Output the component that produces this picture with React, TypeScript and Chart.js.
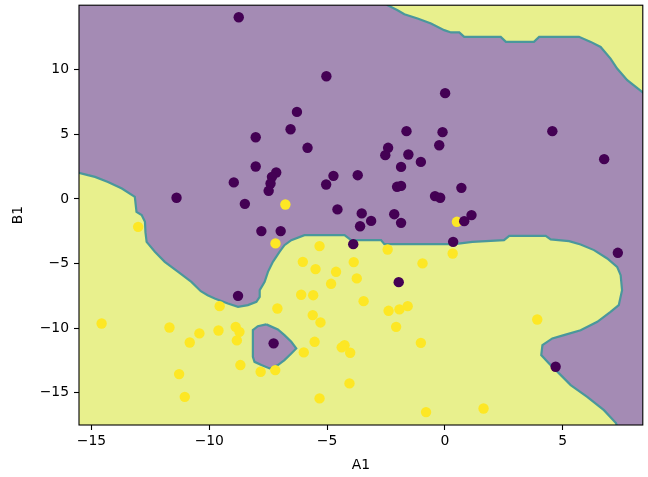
import React, { useEffect, useRef } from 'react';
import { Chart, registerables } from 'chart.js';

Chart.register(...registerables);

// axis limits and tick labels
const xLimits = [-15.53, 8.4];
const yLimits = [-17.5, 15.0];
const xTicks = [-15, -10, -5, 0, 5];
const yTicks = [-15, -10, -5, 0, 5, 10];
const xLabel = 'A1';
const yLabel = 'B1';

// class 0 (dark purple) samples [A1, B1]
const class0: [number, number][] = [
  [-8.75, 14.07], [-8.03, 4.78], [-5.03, 9.5], [0.01, 8.19], [-6.28, 6.74], [-6.55, 5.4],
  [-1.63, 5.25], [-0.1, 5.17], [-5.83, 3.96], [-2.41, 3.96], [-0.24, 4.16], [4.56, 5.25],
  [-2.53, 3.39], [-1.55, 3.44], [-1.02, 2.87], [-1.86, 2.48], [-7.16, 2.05], [-7.34, 1.71],
  [-7.4, 1.2], [-7.48, 0.63], [-4.73, 1.79], [-5.04, 1.12], [-3.7, 1.84], [-2.03, 0.94],
  [-1.86, 1.01], [-0.42, 0.22], [-0.2, 0.09], [0.7, 0.86], [-4.56, -0.81], [-3.53, -1.12],
  [-3.13, -1.7], [-3.6, -2.11], [-2.15, -1.18], [-1.86, -1.85], [-6.97, -2.49], [-7.79, -2.49],
  [-3.89, -3.5], [0.35, -3.32], [-1.96, -6.44], [6.76, 3.08], [1.13, -1.25], [0.82, -1.72],
  [7.34, -4.17], [-8.03, 2.51], [-8.96, 1.28], [-11.39, 0.09], [-8.49, -0.38], [-8.78, -7.5],
  [-7.27, -11.18], [4.7, -12.99],
];

// class 1 (yellow) samples [A1, B1]
const class1: [number, number][] = [
  [0.51, -1.77], [-13.02, -2.16], [-6.77, -0.43], [-7.19, -3.44], [-5.32, -3.65], [-2.43, -3.91],
  [0.33, -4.22], [-6.03, -4.87], [-3.87, -4.89], [-0.95, -4.99], [-5.49, -5.43], [-4.62, -5.64],
  [-3.74, -6.15], [-4.83, -6.57], [-6.1, -7.42], [-5.59, -7.45], [-3.45, -7.91], [-7.11, -8.48],
  [-2.39, -8.66], [-1.93, -8.55], [-1.58, -8.3], [-5.61, -8.99], [-5.28, -9.56], [-2.07, -9.9],
  [-5.53, -11.06], [-1.02, -11.14], [-4.26, -11.32], [-4.38, -11.49], [-4.02, -11.91], [-5.99, -11.88],
  [-7.2, -13.25], [-7.82, -13.38], [-4.05, -14.28], [-5.32, -15.44], [-0.8, -16.5], [-9.56, -8.3],
  [-14.57, -9.64], [-11.69, -9.95], [-10.42, -10.41], [-10.83, -11.11], [-9.61, -10.18], [-8.88, -9.9],
  [-8.72, -10.29], [-8.83, -10.95], [-8.68, -12.86], [-11.28, -13.56], [-11.04, -15.32], [3.92, -9.33],
  [1.64, -16.22],
];

// decision boundary of the large class-1 region (left edge -> bottom edge)
const boundaryA: [number, number][] = [
  [-15.7, 2.11], [-15.15, 1.84], [-14.85, 1.71], [-14.3, 1.32], [-13.71, 0.81], [-13.16, 0.16],
  [-13.09, -1.0], [-12.87, -1.25], [-12.73, -1.77], [-12.71, -2.57], [-12.66, -3.32], [-12.31, -4.09],
  [-11.89, -4.87], [-11.32, -5.64], [-10.76, -6.42], [-10.36, -7.14], [-10.07, -7.45], [-9.77, -7.7],
  [-9.21, -8.09], [-8.78, -8.35], [-8.36, -8.22], [-8.0, -7.96], [-7.86, -7.58], [-7.86, -7.06],
  [-7.65, -6.42], [-7.51, -5.64], [-7.3, -4.87], [-7.02, -4.09], [-6.81, -3.58], [-6.52, -3.19],
  [-5.96, -2.8], [-4.26, -2.8], [-3.98, -3.19], [-2.71, -3.19], [-2.57, -3.5], [0.4, -3.5],
  [1.17, -3.32], [2.51, -3.19], [2.73, -2.86], [4.28, -2.86], [4.49, -3.13], [5.27, -3.27],
  [5.76, -3.52], [6.33, -3.96], [6.89, -4.61], [7.31, -5.26], [7.46, -5.9], [7.52, -7.06],
  [7.38, -8.22], [7.03, -8.74], [6.47, -9.51], [5.76, -10.16], [5.05, -10.54], [4.56, -10.8],
  [4.14, -11.32], [4.09, -12.09], [4.42, -12.73], [4.92, -13.64], [5.34, -14.41], [6.04, -15.32],
  [6.75, -16.35], [7.26, -17.35], [7.34, -17.74],
];

// decision boundary of the top-right class-1 region (top edge -> right edge)
const boundaryB: [number, number][] = [
  [-2.53, 15.31], [-2.43, 15.0], [-2.01, 14.61], [-1.72, 14.3], [-1.16, 13.97], [-0.59, 13.58],
  [-0.03, 13.07], [0.26, 12.89], [0.61, 12.89], [0.82, 12.55], [2.37, 12.55], [2.59, 12.16],
  [3.78, 12.16], [4.0, 12.55], [5.69, 12.55], [6.19, 12.16], [6.61, 11.77], [7.03, 10.87],
  [7.31, 10.1], [7.74, 9.2], [8.37, 8.29], [8.57, 8.03],
];

// class-0 island inside the class-1 region
const islandC: [number, number][] = [
  [-7.58, -9.71], [-7.09, -10.1], [-6.81, -10.54], [-6.52, -11.06], [-6.31, -11.57], [-6.52, -11.96],
  [-6.81, -12.48], [-7.09, -12.86], [-7.44, -13.12], [-7.79, -12.86], [-8.08, -12.61], [-8.15, -12.22],
  [-8.15, -10.15], [-7.94, -9.85], [-7.58, -9.71],
];

const PURPLE_FILL = '#a48bb4';
const YELLOW_FILL = '#e8f08d';
const EDGE = '#4a979c';
const DARK = '#440154';
const YELLOW = '#fde725';
const FONT = { family: 'DejaVu Sans', size: 13.9 };

const pts = (a: [number, number][]) => a.map(([x, y]) => ({ x, y }));
const fmt = (v: number | string) => String(v).replace('-', '\u2212');

export default function App() {
  const ref = useRef<HTMLCanvasElement>(null);
  useEffect(() => {
    document.body.style.margin = '0';
    const canvas = ref.current;
    if (!canvas) return;

    const lo = -40;
    const regionA = [...boundaryA, [boundaryA[boundaryA.length - 1][0], lo], [lo, lo], [lo, boundaryA[0][1]]] as [number, number][];
    const regionB = [...boundaryB, [boundaryB[boundaryB.length - 1][0], -lo], [-lo, -lo], [boundaryB[0][0], -lo]] as [number, number][];

    const bgPlugin = {
      id: 'plotBg',
      beforeDatasetsDraw(chart: any) {
        const { ctx, chartArea: a } = chart;
        ctx.save();
        ctx.fillStyle = PURPLE_FILL;
        ctx.fillRect(a.left, a.top, a.right - a.left, a.bottom - a.top);
        ctx.restore();
      },
    };
    const framePlugin = {
      id: 'frame',
      afterDatasetsDraw(chart: any) {
        const { ctx, chartArea: a } = chart;
        ctx.save();
        ctx.strokeStyle = '#000';
        ctx.lineWidth = 1.1;
        ctx.strokeRect(a.left, a.top, a.right - a.left, a.bottom - a.top);
        ctx.restore();
      },
    };

    const region = (data: [number, number][], fillColor: string, order: number) => ({
      data: pts(data),
      showLine: true,
      fill: 'shape',
      backgroundColor: fillColor,
      borderColor: EDGE,
      borderWidth: 2.2,
      pointRadius: 0,
      tension: 0,
      clip: 0,
      order,
    });

    const noPad = (s: any) => {
      s.paddingTop = 0;
      s.paddingBottom = 0;
      s.paddingLeft = 0;
      s.paddingRight = 0;
    };

    const chart = new Chart(canvas, {
      type: 'scatter',
      data: {
        datasets: [
          region(regionA, YELLOW_FILL, 6),
          region(regionB, YELLOW_FILL, 6),
          region(islandC, PURPLE_FILL, 5),
          {
            data: pts(class1),
            backgroundColor: YELLOW,
            borderWidth: 0,
            pointRadius: 5.2,
            order: 2,
          },
          {
            data: pts(class0),
            backgroundColor: DARK,
            borderWidth: 0,
            pointRadius: 5.2,
            order: 1,
          },
        ] as any,
      },
      plugins: [bgPlugin, framePlugin],
      options: {
        animation: false,
        responsive: false,
        devicePixelRatio: 1,
        events: [],
        layout: { padding: { left: 0, right: 4, top: 5, bottom: 0 } },
        plugins: { legend: { display: false }, tooltip: { enabled: false } },
        scales: {
          x: {
            type: 'linear',
            min: xLimits[0],
            max: xLimits[1],
            afterBuildTicks: (s: any) => { s.ticks = xTicks.map((v) => ({ value: v })); },
            afterFit: (s: any) => { s.height = 52; noPad(s); },
            ticks: { font: FONT, color: '#000', padding: 3, maxRotation: 0, autoSkip: false, callback: (v: any) => fmt(v) },
            grid: { display: true, drawOnChartArea: false, drawTicks: true, tickLength: 5, tickWidth: 1.1, tickColor: '#000' },
            border: { display: false },
            title: { display: true, text: xLabel, font: FONT, color: '#000', padding: { top: 0, bottom: 3.6 } },
          },
          y: {
            type: 'linear',
            min: yLimits[0],
            max: yLimits[1],
            afterBuildTicks: (s: any) => { s.ticks = yTicks.map((v) => ({ value: v })); },
            afterFit: (s: any) => { s.width = 79; noPad(s); },
            ticks: { font: FONT, color: '#000', padding: 5, autoSkip: false, callback: (v: any) => fmt(v) },
            grid: { display: true, drawOnChartArea: false, drawTicks: true, tickLength: 5, tickWidth: 1.1, tickColor: '#000' },
            border: { display: false },
            title: { display: true, text: yLabel, font: FONT, color: '#000', padding: { top: 9.6, bottom: 0 } },
          },
        },
      } as any,
    });
    return () => chart.destroy();
  }, []);

  return (
    <div style={{ width: 648, height: 477 }}>
      <canvas ref={ref} width={648} height={477} style={{ display: 'block' }} />
    </div>
  );
}
